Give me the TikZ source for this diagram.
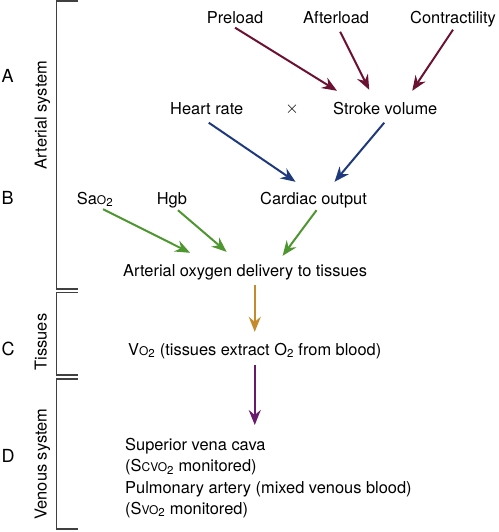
\documentclass[tikz,border=0pt]{standalone}
\usepackage{fontspec}
\setmainfont{TeX Gyre Heros}
\usepackage{tikz}
\usetikzlibrary{arrows.meta,calc}
\definecolor{loadred}{HTML}{6B1232}
\definecolor{cardblue}{HTML}{1F3A7C}
\definecolor{oxgreen}{HTML}{4E9630}
\definecolor{tisorange}{HTML}{C58A2C}
\definecolor{venpurple}{HTML}{6A1A6C}
\definecolor{brackgray}{HTML}{404040}
% small capitals for the oxygen saturation symbols
\newcommand{\smc}[1]{{\fontsize{12}{12}\selectfont #1}}

\begin{document}
\begin{tikzpicture}[x=1pt,y=-1pt]
    % `txt' is used for every one-line text, `block' for the venous list.
    % `letter' and `side' are the section letters and rotated section names.
    % `arr' is used for all the coloured arrows.
    \tikzstyle{txt} = [inner sep=0pt,anchor=base west,text height=12pt,text depth=4pt,font=\fontsize{16.4}{19}\selectfont]
    \tikzstyle{block} = [inner sep=0pt,anchor=north west,align=left,font=\fontsize{16.4}{21.3}\selectfont]
    \tikzstyle{letter} = [inner sep=0pt,anchor=base west,font=\fontsize{18}{20}\selectfont]
    \tikzstyle{side} = [inner sep=0pt,rotate=90,text height=12pt,text depth=4pt,font=\fontsize{16.4}{19}\selectfont]
    \tikzstyle{arr} = [line width=2pt,-{Stealth[length=15pt,width=12pt,inset=5pt]}]
    \tikzstyle{brack} = [line width=1.4pt,draw=brackgray]
    \useasboundingbox (0,0) rectangle (498,532);
    %
    % Brackets on the left.
    \draw[brack] (78,1) -- (56.5,1) -- (56.5,289) -- (78,289);
    \draw[brack] (78,292.7) -- (56.5,292.7) -- (56.5,375) -- (78,375);
    \draw[brack] (78,379) -- (56.5,379) -- (56.5,529) -- (78,529);
    \node[side] (art) at (42.7,115) {Arterial system};
    \node[side] (tis) at (42.7,342) {Tissues};
    \node[side] (ven) at (42.7,464) {Venous system};
    \node[letter] (la) at (1.5,83) {A};
    \node[letter] (lb) at (1.5,204) {B};
    \node[letter] (lc) at (1.5,355) {C};
    \node[letter] (ld) at (1.5,462) {D};
    %
    % Text nodes.
    \node[txt] (pre) at (206.7,23.5) {Preload};
    \node[txt] (aft) at (303,23.5) {Afterload};
    \node[txt] (con) at (410,23.5) {Contractility};
    \node[txt] (hr) at (170,114.5) {Heart rate};
    \node[txt,anchor=base] (times) at (292,113.5) {$\times$};
    \node[txt] (sv) at (333,114.5) {Stroke volume};
    \node[txt] (sa) at (76.7,204) {Sa\smc{O}\textsubscript{2}};
    \node[txt] (hgb) at (156.7,204) {Hgb};
    \node[txt] (co) at (260,204) {Cardiac output};
    \node[txt] (aod) at (123,276.5) {Arterial oxygen delivery to tissues};
    \node[txt] (vo) at (128,355) {V\smc{O}\textsubscript{2} (tissues extract O\textsubscript{2} from blood)};
    \node[block] (vb) at (125,438) {Superior vena cava\\
        (S\smc{CVO}\textsubscript{2} monitored)\\
        Pulmonary artery (mixed venous blood)\\
        (S\smc{VO}\textsubscript{2} monitored)};
    %
    % Arrows.
    \draw[arr,loadred] (pre.south) -- ($(sv.north west)+(4,-11.5)$);
    \draw[arr,loadred] ($(aft.south)+(4,4)$) -- ($(sv.north)+(-16,-12.5)$);
    \draw[arr,loadred] ($(con.south)+(0,2)$) -- ($(sv.north)+(27,-11.5)$);
    \draw[arr,cardblue] ($(hr.south)+(2,4)$) -- ($(co.north)+(-18,-10)$);
    \draw[arr,cardblue] ($(sv.south)+(-1,4)$) -- ($(co.north)+(21,-10)$);
    \draw[arr,oxgreen] ($(sa.south)+(8,1)$) -- ($(aod.north)+(-55,-11.5)$);
    \draw[arr,oxgreen] ($(hgb.south)+(6,2)$) -- ($(aod.north)+(-18.5,-12.5)$);
    \draw[arr,oxgreen] ($(co.south)+(3,2)$) -- ($(aod.north)+(37.5,-8.5)$);
    \draw[arr,tisorange] ($(aod.south -| vo.north)+(0,4.5)$) -- ($(vo.north)+(0,-11)$);
    \draw[arr,venpurple] ($(vo.south)+(0,6)$) -- ($(vo.south |- vb.north)+(0,-13)$);
\end{tikzpicture}
\end{document}
